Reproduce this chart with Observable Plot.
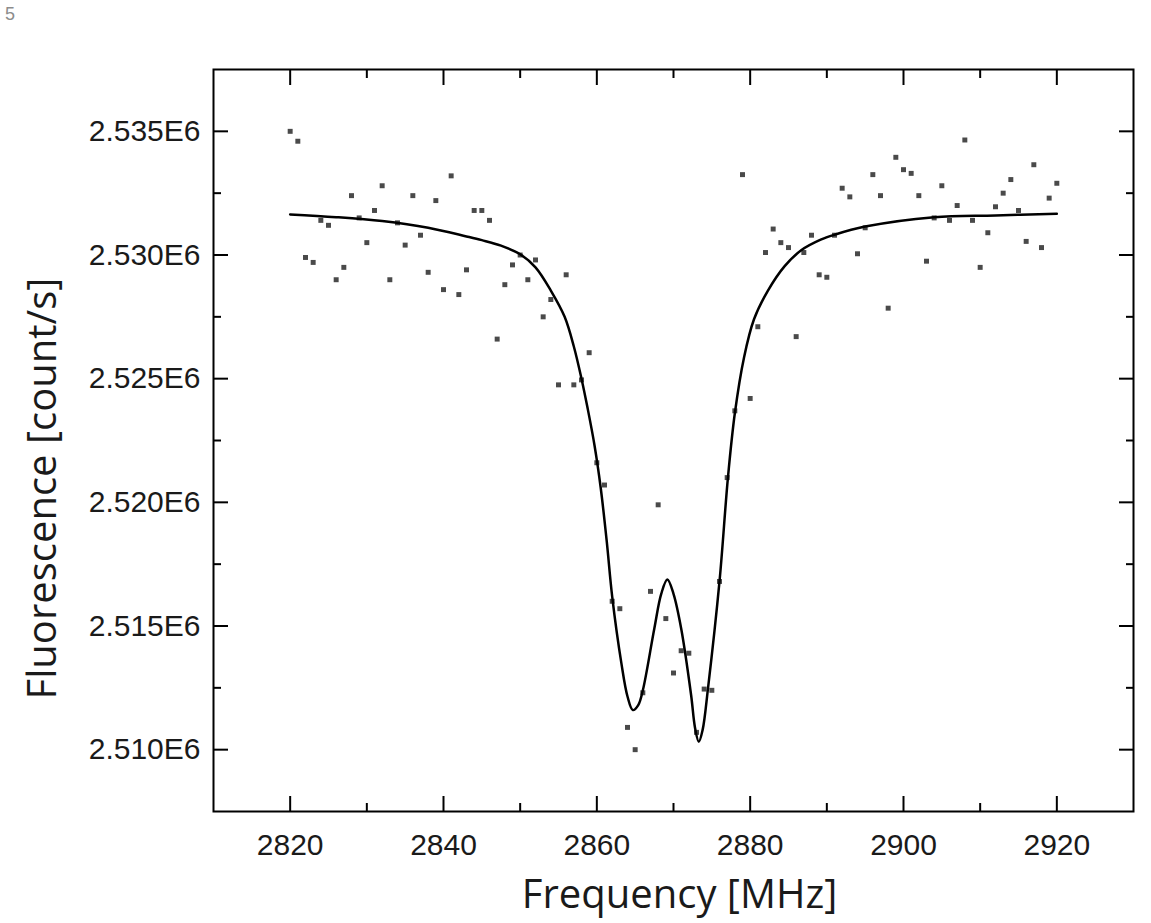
<!DOCTYPE html>
<html><head><meta charset="utf-8">
<script src="https://cdn.jsdelivr.net/npm/d3@7"></script>
<script src="https://cdn.jsdelivr.net/npm/@observablehq/plot@0.6"></script>
<style>
body{margin:0;background:#fff;}
#wrap{position:relative;width:1151px;height:923px;}
#corner{position:absolute;left:5px;top:3px;font:18px/22px "Liberation Sans",Arial,sans-serif;color:#8c8c8c;}
</style>
</head><body><div id="wrap"><div id="corner">5</div><div id="chart"></div></div>
<script>
// measured data (frequency in MHz, fluorescence in counts/s)
const freq = [2820,2821,2822,2823,2824,2825,2826,2827,2828,2829,2830,2831,2832,2833,2834,2835,2836,2837,2838,2839,
  2840,2841,2842,2843,2844,2845,2846,2847,2848,2849,2850,2851,2852,2853,2854,2855,2856,2857,2858,2859,
  2860,2861,2862,2863,2864,2865,2866,2867,2868,2869,2870,2871,2872,2873,2874,2875,2876,2877,2878,2879,
  2880,2881,2882,2883,2884,2885,2886,2887,2888,2889,2890,2891,2892,2893,2894,2895,2896,2897,2898,2899,
  2900,2901,2902,2903,2904,2905,2906,2907,2908,2909,2910,2911,2912,2913,2914,2915,2916,2917,2918,2919,2920];
const counts = [2535000,2534600,2529900,2529700,2531400,2531200,2529000,2529500,2532400,2531500,
  2530500,2531800,2532800,2529000,2531300,2530400,2532400,2530800,2529300,2532200,
  2528600,2533200,2528400,2529400,2531800,2531800,2531400,2526600,2528800,2529600,
  2530000,2529000,2529800,2527500,2528200,2524750,2529200,2524750,2524950,2526050,
  2521600,2520700,2516000,2515700,2510900,2510000,2512300,2516400,2519900,2515300,
  2513100,2514000,2513900,2510700,2512450,2512400,2516800,2521000,2523700,2533250,
  2524200,2527100,2530100,2531050,2530500,2530300,2526700,2530100,2530800,2529200,
  2529100,2530800,2532700,2532350,2530050,2531100,2533250,2532400,2527850,2533950,
  2533450,2533300,2532400,2529750,2531500,2532800,2531400,2532000,2534650,2531400,
  2529500,2530900,2531950,2532500,2533050,2531800,2530550,2533650,2530300,2532300,2532900];

// fitted curve
const fitFreq = [2820,2826,2832,2838,2843,2845,2847.5,2850,2852,2854,2855.8,2857,2858,2858.8,2859.7,2860.5,2861.3,2862,2863.2,2864,2864.7,
  2865.4,2866,2867.5,2868.4,2869.2,2870,2871,2872.3,2872.8,2873.3,2873.8,2874.5,2876,2877.1,2878,2879.2,2880.5,2882.3,2884.5,2886.7,
  2889.2,2891,2895,2904,2912,2920];
const fitCounts = [2531640,2531530,2531370,2531100,2530750,2530600,2530380,2530030,2529500,2528560,2527500,2526300,2525000,2523800,2522300,2520600,2518400,2516200,2513500,2512150,2511600,
  2511800,2512400,2514900,2516300,2516880,2516300,2514900,2512200,2510900,2510320,2510800,2512480,2516800,2521000,2523600,2525860,2527400,2528550,2529550,2530200,
  2530620,2530820,2531150,2531530,2531600,2531670];

const xTicks = [2820,2840,2860,2880,2900,2920];
const xMinor = [2830,2850,2870,2890,2910];
const yTicks = [2510000,2515000,2520000,2525000,2530000,2535000];
const yMinor = [2512500,2517500,2522500,2527500,2532500];

const points = freq.map((f,i)=>({f, c: counts[i]}));
const fit = fitFreq.map((f,i)=>({f, c: fitCounts[i]}));

const tickStyle = {fill: "none", stroke: "#000", strokeWidth: 2, label: null};
const chart = Plot.plot({
  width: 1151, height: 923,
  marginLeft: 213, marginRight: 18, marginTop: 69, marginBottom: 112,
  style: {fontFamily: "'Liberation Sans', Arial, sans-serif", fontSize: "30px", color: "#1a1a1a", background: "#fff", overflow: "visible"},
  x: {domain: [2810, 2930]},
  y: {domain: [2507500, 2537500]},
  marks: [
    Plot.axisX({anchor: "bottom", ticks: xTicks, tickSize: 0, tickPadding: 22, stroke: "none", fill: "#1a1a1a", fontSize: 30, tickFormat: d => String(d), label: null}),
    Plot.axisY({anchor: "left", ticks: yTicks, tickSize: 0, tickPadding: 13, stroke: "none", fill: "#1a1a1a", fontSize: 30, tickFormat: d => (d/1e6).toFixed(3) + "E6", label: null}),
    Plot.axisX({anchor: "bottom", ticks: xTicks, tickSize: -15, ...tickStyle}),
    Plot.axisX({anchor: "bottom", ticks: xMinor, tickSize: -8, ...tickStyle}),
    Plot.axisX({anchor: "top", ticks: xTicks, tickSize: -15, ...tickStyle}),
    Plot.axisX({anchor: "top", ticks: xMinor, tickSize: -8, ...tickStyle}),
    Plot.axisY({anchor: "left", ticks: yTicks, tickSize: -15, ...tickStyle}),
    Plot.axisY({anchor: "left", ticks: yMinor, tickSize: -8, ...tickStyle}),
    Plot.axisY({anchor: "right", ticks: yTicks, tickSize: -15, ...tickStyle}),
    Plot.axisY({anchor: "right", ticks: yMinor, tickSize: -8, ...tickStyle}),
    Plot.frame({stroke: "#000", strokeWidth: 2}),
    Plot.dot(points, {x: "f", y: "c", symbol: "square", r: 2.8, fill: "#4a4a4a", stroke: "none"}),
    Plot.line(fit, {x: "f", y: "c", curve: "catmull-rom", stroke: "#000", strokeWidth: 2.5}),
    Plot.text(["Frequency [MHz]"], {frameAnchor: "bottom", dx: 6, dy: 96, textAnchor: "middle", lineAnchor: "bottom", fontSize: 40, fontFamily: "'Open Sans', sans-serif", fill: "#1a1a1a"}),
    Plot.text(["Fluorescence [count/s]"], {frameAnchor: "left", dx: -158, dy: 48, rotate: -90, textAnchor: "middle", lineAnchor: "bottom", fontSize: 40, fontFamily: "'Open Sans', sans-serif", fill: "#1a1a1a"})
  ]
});
document.getElementById("chart").appendChild(chart);
</script>
</body></html>
